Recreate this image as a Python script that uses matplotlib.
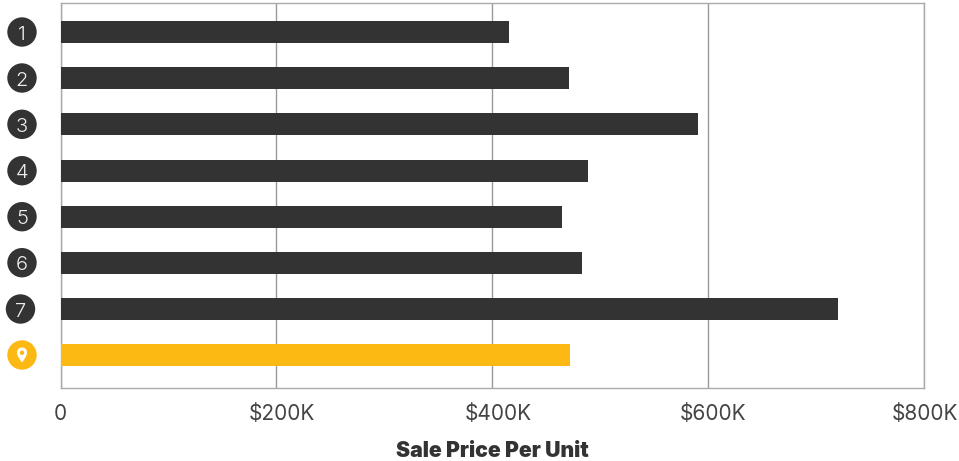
import matplotlib
matplotlib.use('Agg')
import matplotlib.pyplot as plt
from matplotlib.patches import Circle, PathPatch
from matplotlib.path import Path
from matplotlib.transforms import ScaledTranslation

ranks = ['1', '2', '3', '4', '5', '6', '7', '']
prices = [416000, 471000, 591000, 489000, 465000, 483000, 721000, 472000]
colors = ['#333333'] * 7 + ['#FDB913']
ticks = [0, 200000, 400000, 600000, 800000]
tick_labels = ['0', '$200K', '$400K', '$600K', '$800K']

plt.rcParams['font.family'] = ['Inter', 'DejaVu Sans']

W, H = 959, 461
fig = plt.figure(figsize=(W / 100, H / 100), dpi=100)
ax = fig.add_axes([60.5 / W, 1 - 387.5 / H, 863 / W, 384.5 / H])

y = list(range(len(prices)))
ax.barh(y, prices, height=0.477, color=colors, zorder=3)
ax.set_xlim(0, 800000)
ax.set_ylim(7.70, -0.63)
ax.set_yticks([])
ax.set_xticks(ticks)
ax.set_xticklabels(tick_labels, fontsize=15, color='#444444')
ax.tick_params(axis='x', length=0, pad=12)
# dollar labels sit a little right of their gridlines, the last one less so it fits
labels = ax.get_xticklabels()
for lab, px in zip(labels[1:], [6, 6, 5, 1.5]):
    lab.set_transform(lab.get_transform() + ScaledTranslation(px / 100, 0, fig.dpi_scale_trans))
ax.grid(axis='x', color='#999999', lw=1, zorder=1)
for s in ax.spines.values():
    s.set_color('#AAAAAA')
    s.set_linewidth(1)

ax.set_xlabel('Sale Price Per Unit', fontsize=15.3, fontweight=900, color='#333333', labelpad=12)

# rank badges sit left of the axes, in figure pixels
overlay = fig.add_axes([0, 0, 1, 1], facecolor='none')
overlay.set_xlim(0, W)
overlay.set_ylim(H, 0)
overlay.axis('off')
cx = [22, 22, 22, 22, 22, 22, 20.5, 22]
cy = [32, 78, 124.3, 170.7, 216.7, 262.7, 309, 355]
for i, c in enumerate(cy):
    overlay.add_patch(Circle((cx[i], c), 14.7, color=colors[i], lw=0))
    if ranks[i]:
        overlay.text(cx[i], c + 0.5, ranks[i], color='#EEEEEE', fontsize=14.5, fontweight=300,
                     ha='center', va='center_baseline')

# location pin in the last badge
verts = [(22, 362.5),
         (19, 358.5), (17, 355.5), (17, 352.5),
         (17, 349.5), (19.2, 347.5), (22, 347.5),
         (24.8, 347.5), (27, 349.5), (27, 352.5),
         (27, 355.5), (25, 358.5), (22, 362.5)]
codes = [Path.MOVETO] + [Path.CURVE4] * 12
overlay.add_patch(PathPatch(Path(verts, codes), fc='white', lw=0))
overlay.add_patch(Circle((22, 352.8), 2.2, color='#FDB913', lw=0))

fig.savefig('out.png', dpi=100)
